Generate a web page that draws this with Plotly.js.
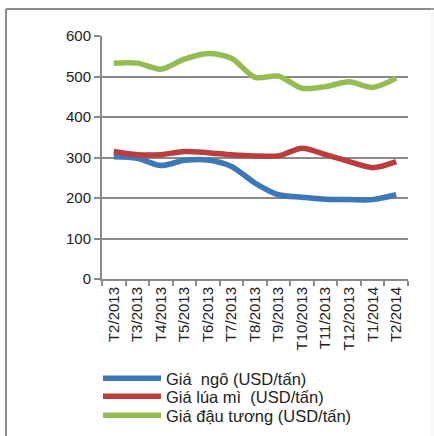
<!DOCTYPE html>
<html>
<head>
<meta charset="utf-8">
<script src="https://cdn.plot.ly/plotly-3.0.1.min.js"></script>
<style>
  html, body { margin: 0; padding: 0; background: #ffffff; }
  #chart { width: 434px; height: 436px; }
</style>
</head>
<body>
<div id="chart"></div>
<script>
// Monthly commodity prices, USD per tonne
const months = ["T2/2013", "T3/2013", "T4/2013", "T5/2013", "T6/2013", "T7/2013",
                "T8/2013", "T9/2013", "T10/2013", "T11/2013", "T12/2013", "T1/2014", "T2/2014"];
const cornPrice    = [302, 298, 280, 293, 294, 278, 237, 208, 202, 197, 196, 196, 208];
const wheatPrice   = [315, 307, 307, 315, 312, 307, 304, 304, 323, 307, 290, 275, 290];
const soybeanPrice = [533, 533, 518, 543, 557, 545, 498, 501, 471, 475, 487, 473, 496];

const seriesNames = ["Giá\u00a0 ngô (USD/tấn)", "Giá lúa mì\u00a0 (USD/tấn)", "Giá đậu tương (USD/tấn)"];
const seriesColors = ["#3d78b8", "#bb3e3c", "#93bd52"];
const seriesValues = [cornPrice, wheatPrice, soybeanPrice];
const legendIds = ["legend", "legend2", "legend3"];

const traces = seriesValues.map((vals, i) => ({
  type: "scatter",
  mode: "lines",
  x: months,
  y: vals,
  name: seriesNames[i],
  legend: legendIds[i],
  line: { color: seriesColors[i], width: 5.5, shape: "spline", smoothing: 0.8 }
}));

const grey = "#8a8a8a";
const font = { family: "Liberation Sans, Arial, sans-serif", size: 15, color: "#222222" };
const legendFont = { family: "Liberation Sans, Arial, sans-serif", size: 16.5, color: "#222222" };

// plot area in pixels
const L = 102, T = 36, W = 306, H = 243;
const FW = 434, FH = 436;
const px = v => (v - L) / W;
const py = v => (T + H - v) / H;

// one legend box per series so the rows sit close together
function legendAt(top) {
  return {
    xref: "container", yref: "container",
    x: 98 / FW, xanchor: "left",
    y: 1 - top / FH, yanchor: "top",
    font: legendFont,
    itemwidth: 58,
    bgcolor: "rgba(0,0,0,0)",
    borderwidth: 0
  };
}

const layout = {
  width: FW,
  height: FH,
  margin: { l: L, r: FW - L - W, t: T, b: FH - T - H, autoexpand: false },
  paper_bgcolor: "#ffffff",
  plot_bgcolor: "#ffffff",
  font: font,
  showlegend: true,
  legend: legendAt(361),
  legend2: legendAt(379),
  legend3: legendAt(398),
  xaxis: {
    type: "category",
    tickangle: -90,
    showgrid: false,
    showline: true,
    linecolor: grey,
    linewidth: 2,
    ticks: "outside",
    tickson: "boundaries",
    ticklen: 5,
    tickwidth: 2,
    tickcolor: grey,
    tickfont: font,
    range: [-0.5, 12.5],
    automargin: false,
    fixedrange: true
  },
  yaxis: {
    range: [0, 600],
    dtick: 100,
    showgrid: true,
    gridcolor: grey,
    gridwidth: 2,
    showline: true,
    linecolor: grey,
    linewidth: 2,
    ticks: "outside",
    ticklen: 6,
    tickwidth: 2,
    tickcolor: grey,
    tickfont: font,
    zeroline: false,
    automargin: false,
    fixedrange: true
  },
  shapes: [
    { type: "line", xref: "paper", yref: "paper", x0: px(6), x1: px(6), y0: py(9), y1: py(440),
      line: { color: "#8c8c8c", width: 2 } },
    { type: "line", xref: "paper", yref: "paper", x0: px(6), x1: px(434), y0: py(9), y1: py(9),
      line: { color: "#8c8c8c", width: 2 } },
    { type: "line", xref: "paper", yref: "paper", x0: px(432), x1: px(432), y0: py(9), y1: py(440),
      line: { color: "#e6e6e6", width: 1 } }
  ]
};

Plotly.newPlot("chart", traces, layout, { displayModeBar: false, staticPlot: true });
</script>
</body>
</html>
